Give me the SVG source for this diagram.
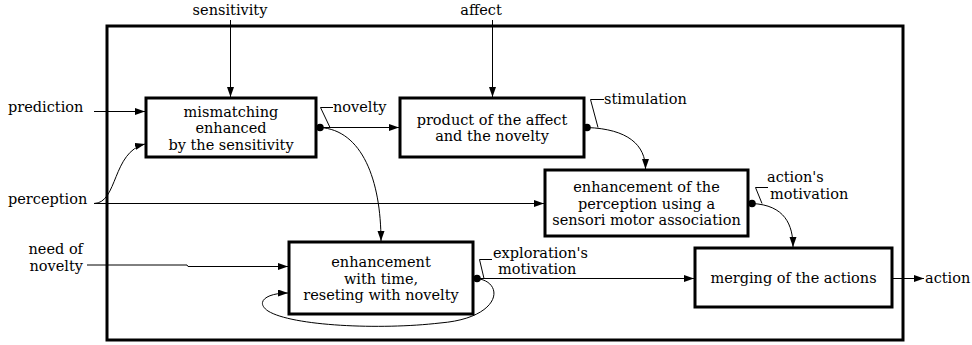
<svg xmlns="http://www.w3.org/2000/svg" width="972" height="345" viewBox="0 0 972 345">
<style>
text{font-family:"DejaVu Serif","Liberation Serif",serif;font-size:14.5px;fill:#000}
.c{text-anchor:middle}
.e{text-anchor:end}
.box{fill:#fff;stroke:#000;stroke-width:3}
.ln{fill:none;stroke:#000;stroke-width:1}
.ld{fill:none;stroke:#000;stroke-width:1}
</style>
<defs>
<marker id="ah" markerUnits="userSpaceOnUse" markerWidth="11" markerHeight="8" refX="10" refY="3.5" orient="auto">
<path d="M0,0 L10,3.5 L0,7 z" fill="#000"/>
</marker>
</defs>
<rect id="frame" x="107" y="26" width="796" height="314" fill="none" stroke="#000" stroke-width="3"/>
<g id="connectors">
<path class="ln" d="M230.5,20 L230.5,97" marker-end="url(#ah)"/>
<path class="ln" d="M492.5,20 L492.5,97" marker-end="url(#ah)"/>
<path class="ln" d="M94,111.5 L145,111.5" marker-end="url(#ah)"/>
<path class="ln" d="M94,203.5 C118,203 112,152 145,144" marker-end="url(#ah)"/>
<path class="ln" d="M94,203.5 L544,203.5" marker-end="url(#ah)"/>
<path class="ln" d="M87,265 L187,265 L188,266.5 L288,266.5" marker-end="url(#ah)"/>
<path class="ln" d="M320,127.5 L399,127.5" marker-end="url(#ah)"/>
<path class="ln" d="M320,127.5 C362,130 381,180 381,241" marker-end="url(#ah)"/>
<path class="ln" d="M587,127.5 C628,129 645.5,145 645.5,169" marker-end="url(#ah)"/>
<path class="ln" d="M752,203.5 C785,205 793,225 793,247" marker-end="url(#ah)"/>
<path class="ln" d="M477,278.5 L694,278.5" marker-end="url(#ah)"/>
<path class="ln" d="M477,278.5 C505,282 502,318 440,323 C380,330 292,326 268,311 C255,302 266,293 288,293" marker-end="url(#ah)"/>
<path class="ln" d="M892,278.5 L924,278.5" marker-end="url(#ah)"/>
<circle cx="320" cy="127.5" r="3.8"/>
<circle cx="587" cy="127.5" r="3.8"/>
<circle cx="752" cy="203.5" r="3.8"/>
<circle cx="477" cy="278.5" r="3.8"/>
<path class="ld" d="M330,127.5 L320.5,107.5 L333,107.5"/>
<path class="ld" d="M598,127.5 L590.5,99.5 L604,99.5"/>
<path class="ld" d="M762,203.5 L755.5,187.5 L768,187.5"/>
<path class="ld" d="M484,278.5 L479.5,259.5 L492,259.5"/>
</g>
<g id="labels">
<text class="c" x="230" y="15">sensitivity</text>
<text class="c" x="481" y="15">affect</text>
<text x="8" y="112">prediction</text>
<text x="8" y="204">perception</text>
<text class="e" x="83" y="254">need of</text>
<text class="e" x="83" y="271">novelty</text>
<text x="333" y="112">novelty</text>
<text x="604" y="104">stimulation</text>
<text x="767" y="182">action's</text>
<text x="770" y="199">motivation</text>
<text x="493" y="258">exploration's</text>
<text x="498" y="274">motivation</text>
<text x="925" y="283">action</text>
</g>
<g id="n1">
<rect class="box" x="146" y="98" width="170" height="59"/>
<text class="c" x="231" y="116.5">mismatching</text>
<text class="c" x="231" y="133">enhanced</text>
<text class="c" x="231" y="149.5">by the sensitivity</text>
</g>
<g id="n2">
<rect class="box" x="400" y="98" width="184" height="59"/>
<text class="c" x="492" y="124.5">product of the affect</text>
<text class="c" x="492" y="141">and the novelty</text>
</g>
<g id="n3">
<rect class="box" x="545" y="170" width="203" height="66"/>
<text class="c" x="646.5" y="192">enhancement of the</text>
<text class="c" x="646.5" y="208.5">perception using a</text>
<text class="c" x="646.5" y="225">sensori motor association</text>
</g>
<g id="n4">
<rect class="box" x="289" y="242" width="184" height="72"/>
<text class="c" x="381" y="267">enhancement</text>
<text class="c" x="381" y="283.5">with time,</text>
<text class="c" x="381" y="300">reseting with novelty</text>
</g>
<g id="n5">
<rect class="box" x="695" y="248" width="197" height="59"/>
<text class="c" x="793.5" y="282.5">merging of the actions</text>
</g>
</svg>
